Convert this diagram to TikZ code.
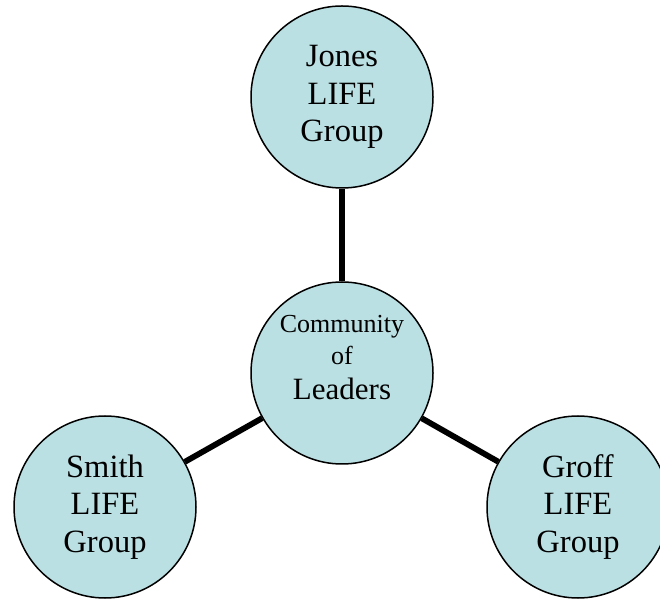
\documentclass[tikz,border=0pt]{standalone}
\usepackage{fontspec}
\setmainfont{Liberation Serif}
\usetikzlibrary{backgrounds}
\definecolor{circfill}{RGB}{187,224,227}
\tikzset{
  grp/.style={circle, draw=black, line width=1.5pt, fill=circfill, minimum size=182pt, inner sep=0pt, align=center, font=\fontsize{32.5}{37.5}\selectfont},
  link/.style={line width=5.8pt, draw=black},
  lbl/.style={align=center, inner sep=0pt, font=\fontsize{26}{32}\selectfont}
}
\begin{document}
\begin{tikzpicture}[x=1pt,y=1pt]
\useasboundingbox (0,0) rectangle (660,599);
\node[grp] (jones) at (342,502) {Jones\\LIFE\\Group};
\node[grp] (col) at (342,226) {};
\node[lbl] (coltext) at (342,241) {Community\\of\\[3pt]{\fontsize{31}{37}\selectfont Leaders}};
\node[grp] (smith) at (105,92) {Smith\\LIFE\\Group};
\node[grp] (groff) at (578,92) {Groff\\LIFE\\Group};
\begin{scope}[on background layer]
\draw[link] (col) -- (jones);
\draw[link] (col) -- (smith);
\draw[link] (col) -- (groff);
\end{scope}
\end{tikzpicture}
\end{document}
